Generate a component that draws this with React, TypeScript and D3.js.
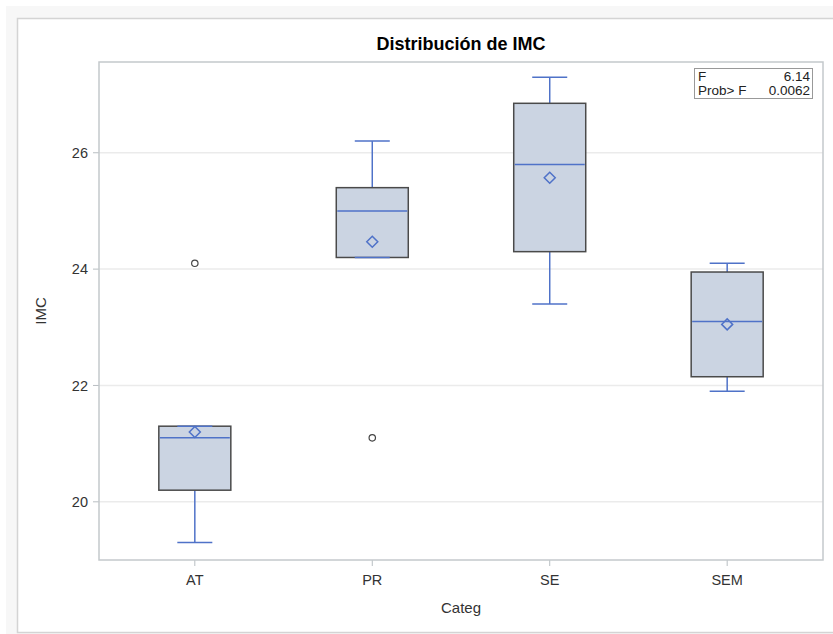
import React from "react";
import * as d3 from "d3";

const categories = ["AT", "PR", "SE", "SEM"];
const minValues = [19.3, 24.2, 23.4, 21.9];
const q1Values = [20.2, 24.2, 24.3, 22.15];
const medianValues = [21.1, 25.0, 25.8, 23.1];
const q3Values = [21.3, 25.4, 26.85, 23.95];
const maxValues = [21.3, 26.2, 27.3, 24.1];
const meanValues = [21.2, 24.47, 25.57, 23.05];
const outlierCategories = ["AT", "PR"];
const outlierValues = [24.1, 21.1];
const yTicks = [20, 22, 24, 26];
const statLabels = ["F", "Prob> F"];
const statValues = ["6.14", "0.0062"];

const W = 833;
const H = 634;
const plot = { left: 99, right: 823, top: 62, bottom: 560 };
const FONT = "'Liberation Sans', Arial, sans-serif";
const BLUE = "#4f72c8";
const FILL = "#cbd4e2";
const OUTLINE = "#4a4a4a";

export default function App() {
  const x = d3
    .scalePoint<string>()
    .domain(categories)
    .range([plot.left, plot.right])
    .padding(0.54);
  const y = d3.scaleLinear().domain([19.0, 27.56]).range([plot.bottom, plot.top]);
  const boxW = 72;
  const capW = 35;

  const diamond = (cx: number, cy: number, r: number) =>
    `M${cx},${cy - r}L${cx + r},${cy}L${cx},${cy + r}L${cx - r},${cy}Z`;

  return (
    <svg
      width={W}
      height={H}
      style={{ position: "absolute", left: 0, top: 0, display: "block" }}
      fontFamily={FONT}
    >
      <rect x={0} y={0} width={W} height={H} fill="#ffffff" />
      <rect x={6} y={6} width={W} height={H} fill="#f7f7f7" />
      <rect x={17.5} y={18.5} width={W} height={614} fill="#ffffff" stroke="#d4d4d4" strokeWidth={1.5} />

      <text x={(plot.left + plot.right) / 2} y={50} textAnchor="middle" fontSize={18} fontWeight="bold" fill="#000">
        Distribución de IMC
      </text>

      {yTicks.map((t) => (
        <g key={t}>
          <line x1={plot.left} x2={plot.right} y1={y(t)} y2={y(t)} stroke="#ebebeb" strokeWidth={1.5} />
          <line x1={plot.left - 6} x2={plot.left} y1={y(t)} y2={y(t)} stroke="#b8bec2" strokeWidth={1} />
          <text x={plot.left - 11} y={y(t)} dy="0.36em" textAnchor="end" fontSize={14.5} fill="#333">
            {t}
          </text>
        </g>
      ))}

      {categories.map((c) => (
        <g key={c}>
          <line x1={x(c)} x2={x(c)} y1={plot.bottom} y2={plot.bottom + 6} stroke="#b8bec2" strokeWidth={1} />
          <text x={x(c)} y={plot.bottom + 25} textAnchor="middle" fontSize={14.5} fill="#333">
            {c}
          </text>
        </g>
      ))}

      <rect
        x={plot.left}
        y={plot.top}
        width={plot.right - plot.left}
        height={plot.bottom - plot.top}
        fill="none"
        stroke="#c4c9cc"
        strokeWidth={1.5}
      />

      {categories.map((c, i) => {
        const cx = x(c) as number;
        return (
          <g key={c}>
            <line x1={cx} x2={cx} y1={y(q3Values[i])} y2={y(maxValues[i])} stroke={BLUE} strokeWidth={1.5} />
            <line x1={cx} x2={cx} y1={y(q1Values[i])} y2={y(minValues[i])} stroke={BLUE} strokeWidth={1.5} />
            <rect
              x={cx - boxW / 2}
              y={y(q3Values[i])}
              width={boxW}
              height={y(q1Values[i]) - y(q3Values[i])}
              fill={FILL}
              stroke={OUTLINE}
              strokeWidth={1.5}
            />
            <line x1={cx - capW / 2} x2={cx + capW / 2} y1={y(maxValues[i])} y2={y(maxValues[i])} stroke={BLUE} strokeWidth={1.5} />
            <line x1={cx - capW / 2} x2={cx + capW / 2} y1={y(minValues[i])} y2={y(minValues[i])} stroke={BLUE} strokeWidth={1.5} />
            <line x1={cx - boxW / 2 + 1} x2={cx + boxW / 2 - 1} y1={y(medianValues[i])} y2={y(medianValues[i])} stroke={BLUE} strokeWidth={1.5} />
            <path d={diamond(cx, y(meanValues[i]), 5.5)} fill="none" stroke={BLUE} strokeWidth={1.5} />
          </g>
        );
      })}

      {outlierValues.map((v, i) => (
        <circle key={i} cx={x(outlierCategories[i]) as number} cy={y(v)} r={3.2} fill="none" stroke="#444" strokeWidth={1.2} />
      ))}

      <g>
        <rect x={694.5} y={68.5} width={118} height={30} fill="#fff" stroke="#999" strokeWidth={1} />
        {statLabels.map((s, i) => (
          <g key={s}>
            <text x={698} y={80.5 + i * 14.5} fontSize={13.5} fill="#222">
              {s}
            </text>
            <text x={810} y={80.5 + i * 14.5} fontSize={13.5} fill="#222" textAnchor="end">
              {statValues[i]}
            </text>
          </g>
        ))}
      </g>

      <text x={(plot.left + plot.right) / 2} y={613} textAnchor="middle" fontSize={15} fill="#333">
        Categ
      </text>
      <text
        transform={`translate(46, ${(plot.top + plot.bottom) / 2}) rotate(-90)`}
        textAnchor="middle"
        fontSize={15}
        fill="#333"
      >
        IMC
      </text>
    </svg>
  );
}
